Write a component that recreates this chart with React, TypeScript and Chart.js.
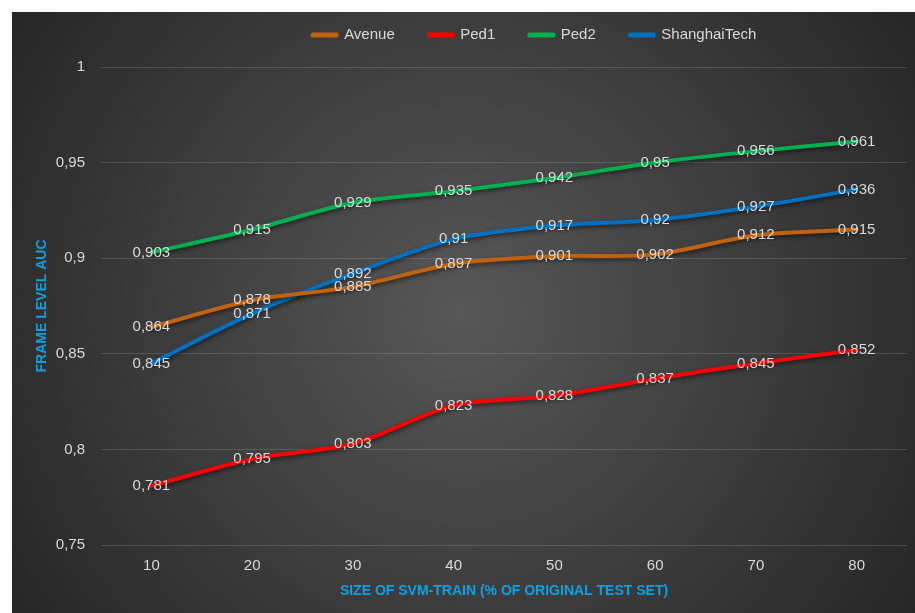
import { useEffect, useRef } from "react";
import { Chart, registerables } from "chart.js";

Chart.register(...registerables);

const categories = ["10", "20", "30", "40", "50", "60", "70", "80"];
const avenue = [0.864, 0.878, 0.885, 0.897, 0.901, 0.902, 0.912, 0.915];
const ped1 = [0.781, 0.795, 0.803, 0.823, 0.828, 0.837, 0.845, 0.852];
const ped2 = [0.903, 0.915, 0.929, 0.935, 0.942, 0.95, 0.956, 0.961];
const shanghaiTech = [0.845, 0.871, 0.892, 0.91, 0.917, 0.92, 0.927, 0.936];
const seriesNames = ["Avenue", "Ped1", "Ped2", "ShanghaiTech"];
const seriesColors = ["#c0620f", "#ff0000", "#00b050", "#0070c0"];
const seriesValues = [avenue, ped1, ped2, shanghaiTech];
const yTicks = [0.75, 0.8, 0.85, 0.9, 0.95, 1];
const xTitle = "SIZE OF SVM-TRAIN (% OF ORIGINAL TEST SET)";
const yTitle = "FRAME LEVEL AUC";

const FONT = "'Liberation Sans', Arial, sans-serif";
const TITLE_FONT = "'Liberation Sans', Arial, sans-serif";
const TEXT = "#d9d9d9";
const TITLE_COLOR = "#0fa0e0";

const fmt = (v: number) => String(Math.round(v * 1000) / 1000).replace(".", ",");

const bgPlugin = {
  id: "bg",
  beforeDraw(chart: any) {
    const { ctx, width, height } = chart;
    const cx = width * 0.5;
    const cy = height * 0.5;
    const g = ctx.createRadialGradient(cx, cy, 0, cx, cy, Math.hypot(width, height) / 2);
    g.addColorStop(0, "#575757");
    g.addColorStop(1, "#262626");
    ctx.save();
    ctx.fillStyle = g;
    ctx.fillRect(0, 0, width, height);
    ctx.restore();
  },
};

const shadowPlugin = {
  id: "lineShadow",
  beforeDatasetsDraw(chart: any) {
    const ctx = chart.ctx;
    ctx.save();
    ctx.shadowColor = "rgba(0,0,0,0.55)";
    ctx.shadowBlur = 4;
    ctx.shadowOffsetX = 1;
    ctx.shadowOffsetY = 2;
  },
  afterDatasetsDraw(chart: any) {
    chart.ctx.restore();
  },
};

const labelPlugin = {
  id: "pointLabels",
  afterDraw(chart: any) {
    const ctx = chart.ctx;
    ctx.save();
    ctx.font = `15px ${FONT}`;
    ctx.fillStyle = TEXT;
    ctx.textAlign = "center";
    ctx.textBaseline = "middle";
    chart.data.datasets.forEach((ds: any, i: number) => {
      const meta = chart.getDatasetMeta(i);
      meta.data.forEach((pt: any, j: number) => {
        ctx.fillText(fmt(ds.data[j]), pt.x, pt.y);
      });
    });
    ctx.restore();
  },
};

const legendPlace = {
  id: "legendPlace",
  afterLayout(chart: any) {
    const lg = chart.legend;
    if (!lg) return;
    lg.top = 23 - 34 - 7.5;
    lg.left += 75;
    lg.right += 75;
  },
};

export default function App() {
  const ref = useRef<HTMLCanvasElement>(null);

  useEffect(() => {
    if (!ref.current) return;
    const chart = new Chart(ref.current, {
      type: "line",
      data: {
        labels: categories,
        datasets: seriesNames.map((name, i) => ({
          label: name,
          data: seriesValues[i],
          borderColor: seriesColors[i],
          backgroundColor: seriesColors[i],
          borderWidth: 4,
          pointRadius: 0,
          pointHoverRadius: 0,
          tension: 0.3,
          borderCapStyle: "round" as const,
          borderJoinStyle: "round" as const,
        })),
      },
      options: {
        animation: false,
        responsive: true,
        maintainAspectRatio: false,
        layout: { padding: { top: 0, left: 0, right: 8, bottom: 0 } },
        font: { family: FONT },
        plugins: {
          tooltip: { enabled: false },
          legend: {
            position: "top",
            maxHeight: 55,
            labels: {
              color: TEXT,
              font: { family: FONT, size: 15 },
              boxWidth: 24,
              boxHeight: 1,
              padding: 34,
              generateLabels: (chart: any) =>
                chart.data.datasets.map((ds: any, i: number) => ({
                  text: ds.label,
                  fillStyle: ds.borderColor,
                  strokeStyle: ds.borderColor,
                  lineWidth: 4,
                  lineJoin: "round",
                  lineCap: "round",
                  fontColor: TEXT,
                  hidden: false,
                  datasetIndex: i,
                })),
            },
          },
        } as any,
        scales: {
          x: {
            type: "category",
            offset: true,
            grid: { display: false, drawTicks: false },
            border: { display: false },
            ticks: { color: TEXT, font: { family: FONT, size: 15 }, padding: 12 },
            title: {
              display: true,
              text: xTitle,
              color: TITLE_COLOR,
              font: { family: TITLE_FONT, size: 14, weight: "bold" },
              padding: { top: 0, bottom: 13 },
            },
            afterFit: (s: any) => {
              s.height = 68;
            },
          },
          y: {
            min: 0.75,
            max: 1,
            grid: { color: "rgba(255,255,255,0.14)", lineWidth: 1, drawTicks: false },
            border: { display: false },
            ticks: {
              color: TEXT,
              font: { family: FONT, size: 15 },
              padding: 16,
              callback: (v: any) => fmt(Number(v)),
            },
            afterBuildTicks: (s: any) => {
              s.ticks = yTicks.map((v) => ({ value: v }));
            },
            title: {
              display: true,
              text: yTitle,
              color: TITLE_COLOR,
              font: { family: TITLE_FONT, size: 14, weight: "bold" },
              padding: { top: 22, bottom: 0 },
            },
            afterFit: (s: any) => {
              s.width = 89;
            },
          },
        },
      },
      plugins: [bgPlugin, shadowPlugin, labelPlugin, legendPlace],
    });
    return () => chart.destroy();
  }, []);

  return (
    <div style={{ position: "fixed", left: 12, top: 12, width: 903, height: 601 }}>
      <canvas ref={ref} />
    </div>
  );
}
